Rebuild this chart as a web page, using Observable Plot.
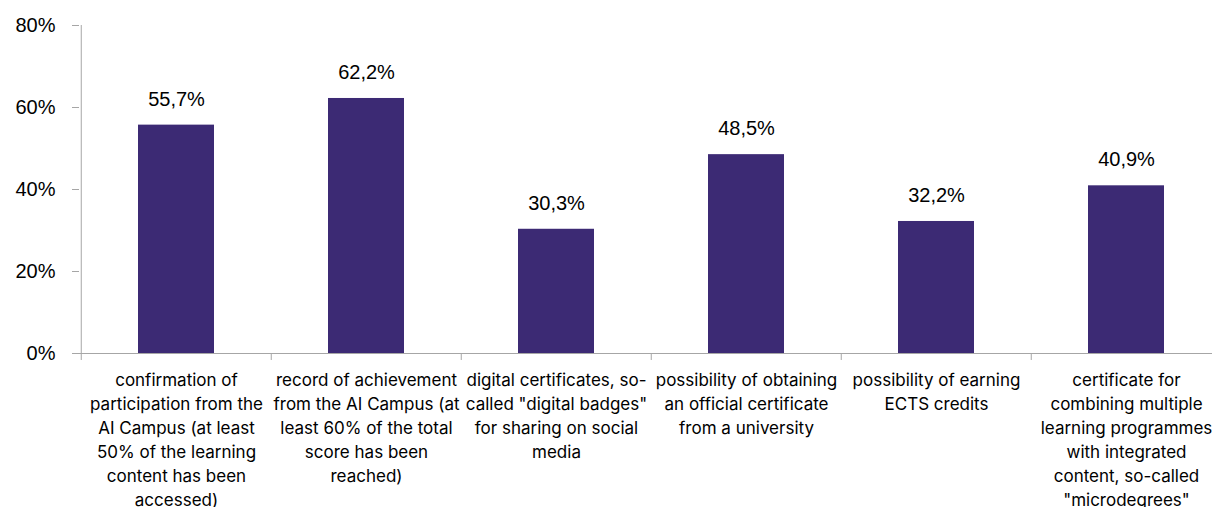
<!DOCTYPE html>
<html>
<head>
<meta charset="utf-8">
<script src="https://cdn.jsdelivr.net/npm/d3@7"></script>
<script src="https://cdn.jsdelivr.net/npm/@observablehq/plot@0.6"></script>
<style>
  html, body { margin: 0; padding: 0; background: #fff; overflow: hidden; }
  #chart svg { display: block; overflow: hidden; }
</style>
</head>
<body>
<div id="chart"></div>
<script>
const categories = [
  "confirmation of\nparticipation from the\nAI Campus (at least\n50% of the learning\ncontent has been\naccessed)",
  "record of achievement\nfrom the AI Campus (at\nleast 60% of the total\nscore has been\nreached)",
  "digital certificates, so-\ncalled \"digital badges\"\nfor sharing on social\nmedia",
  "possibility of obtaining\nan official certificate\nfrom a university",
  "possibility of earning\nECTS credits",
  "certificate for\ncombining multiple\nlearning programmes\nwith integrated\ncontent, so-called\n\"microdegrees\""
];
const values = [55.7, 62.2, 30.3, 48.5, 32.2, 40.9];
const yTicks = [0, 20, 40, 60, 80];

const data = categories.map((c, i) => ({category: c, value: values[i]}));
const fmt = v => v.toFixed(1).replace(".", ",") + "%";

const W = 1212, H = 507;
const xRange = [79, 1222];
const step = (xRange[1] - xRange[0]) / categories.length;
const axisColor = "#a6a6a6";
const barColor = "#3c2a74";

const chart = Plot.plot({
  width: W,
  height: H,
  marginTop: 25,
  marginBottom: 154,
  marginLeft: 79,
  marginRight: 0,
  style: {fontFamily: "Liberation Sans, Arial, sans-serif", background: "#fff", color: "#000"},
  x: {domain: categories, range: xRange, paddingInner: 0.6, paddingOuter: 0.3, align: 0.5},
  y: {domain: [0, 80], ticks: yTicks},
  marks: [
    Plot.barY(data, {x: "category", y: "value", fill: barColor}),
    Plot.text(data, {x: "category", y: "value", text: d => fmt(d.value), dy: -26, fontSize: 20, fill: "#000", fontFamily: "Liberation Sans, Arial, sans-serif"}),
    Plot.axisY({ticks: yTicks, tickFormat: d => d + "%", tickSize: 7, tickPadding: 17, stroke: axisColor, fontSize: 20, fill: "#000", label: null}),
    Plot.ruleX([0], {x: () => categories[0], dx: -step / 2, y1: 0, y2: 80, stroke: axisColor}),
    Plot.ruleY([0], {stroke: axisColor}),
    Plot.ruleX(categories, {x: d => d, dx: -step / 2, y1: 0, y2: -1.7, stroke: axisColor}),
    Plot.axisX({tickSize: 0, tickPadding: 15, lineHeight: 1.42, fontSize: 17, fill: "#000", fontFamily: "Inter, sans-serif", label: null})
  ]
});
document.getElementById("chart").appendChild(chart);
</script>
</body>
</html>
